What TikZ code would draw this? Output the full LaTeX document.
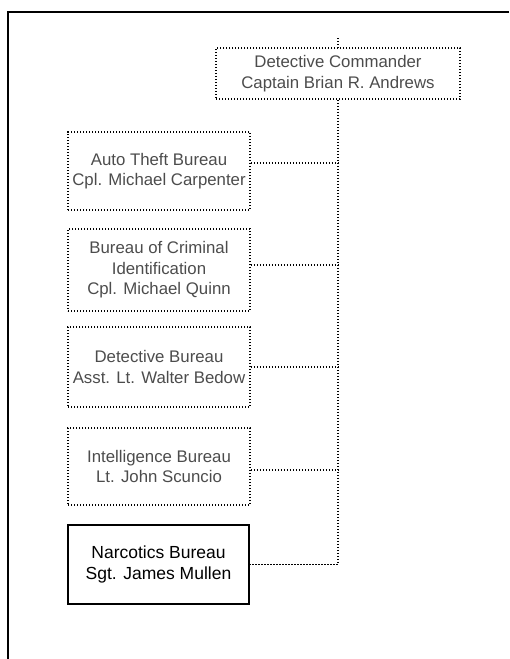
\documentclass[tikz,border=0pt]{standalone}
\usepackage{fontspec}
\setmainfont{Liberation Sans}
\begin{document}
\begin{tikzpicture}[x=1pt,y=1pt,
  dotbox/.style={draw=black, line width=1.6pt, dash pattern=on 1.4pt off 1.6pt,
    align=center, font=\fontsize{16.8}{20.5}\selectfont, text=black!70,
    minimum width=182pt, inner sep=0pt},
  solidbox/.style={draw=black, line width=1.5pt,
    align=center, font=\fontsize{17.5}{21}\selectfont,
    minimum width=181pt, inner sep=0pt},
  conn/.style={line width=1.6pt, dash pattern=on 1.4pt off 1.6pt},
  frame/.style={line width=2pt}]
\useasboundingbox (0,0) rectangle (509,-659);

% outer frame: top rule and left rule
\coordinate (ftl) at (8,-12);
\coordinate (ftr) at (509,-12);
\coordinate (fbl) at (8,-659);
\draw[frame] (ftr) -- (ftl) -- (fbl);

% commander
\node[dotbox, minimum width=244pt, minimum height=51pt] (cmd) at (338,-73.5)
  {Detective Commander\\Captain Brian R. Andrews};

% bureaus
\node[dotbox, minimum height=78pt] (b1) at (159,-171)
  {Auto Theft Bureau\\Cpl. Michael Carpenter};
\node[dotbox, minimum height=82pt] (b2) at (159,-270)
  {Bureau of Criminal\\Identification\\Cpl. Michael Quinn};
\node[dotbox, minimum height=80pt] (b3) at (159,-367)
  {Detective Bureau\\Asst. Lt. Walter Bedow};
\node[dotbox, minimum height=77pt] (b4) at (159,-466.5)
  {Intelligence Bureau\\Lt. John Scuncio};
\node[solidbox, minimum height=79pt] (nb) at (158.5,-564.5)
  {Narcotics Bureau\\Sgt. James Mullen};

% line coming in from above
\coordinate (up) at (338,-38);
\draw[conn] (up) -- (cmd.north);

% trunk down to the narcotics bureau
\draw[conn] (cmd.south) -- (cmd.south |- nb.east) -- (nb.east);

% branches to the other bureaus
\path ([yshift=8pt]b1.east) coordinate (p1)
      ([yshift=5pt]b2.east) coordinate (p2)
      (b3.east) coordinate (p3)
      ([yshift=-3.5pt]b4.east) coordinate (p4);
\foreach \p in {p1,p2,p3,p4}
  \draw[conn] (\p) -- (\p -| cmd.south);
\end{tikzpicture}
\end{document}
